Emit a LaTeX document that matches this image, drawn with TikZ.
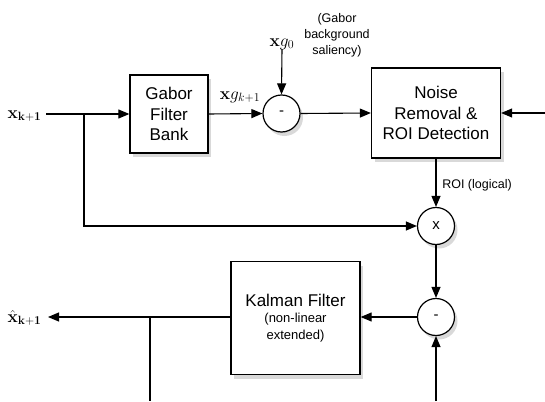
\documentclass[tikz,border=0pt]{standalone}
\usepackage[no-math]{fontspec}
\setmainfont{Liberation Sans}
\usetikzlibrary{arrows.meta,shadows}
\begin{document}
\begin{tikzpicture}[x=1pt,y=-1pt,line width=1.1pt,
  shad/.style={drop shadow={shadow xshift=3pt,shadow yshift=-4pt,opacity=0.3}},
  box/.style={draw,fill=white,line width=1.3pt,shad,align=center,inner sep=2pt,
    font=\fontsize{17}{20.5}\selectfont},
  sumc/.style={circle,draw,fill=white,line width=1.2pt,minimum size=37pt,inner sep=0pt,shad,
    font=\fontsize{15}{18}\selectfont},
  arr/.style={-{Triangle[length=11pt,width=9pt]}},
  lbl/.style={font=\fontsize{18}{20}\selectfont},
  small/.style={align=center,font=\fontsize{12.5}{16}\selectfont}]
\useasboundingbox (0,0) rectangle (545,401);
% blocks
\node[box,minimum width=78pt,minimum height=78pt] (gabor) at (169,114) {Gabor\\Filter\\Bank};
\node[sumc] (m1) at (281.5,113.5) {-};
\node[box,minimum width=129pt,minimum height=90pt] (noise) at (436,113) {Noise\\Removal \&\\ROI Detection};
\node[sumc] (mul) at (436,226) {x};
\node[sumc] (m2) at (436,317) {-};
\node[box,minimum width=129pt,minimum height=113pt,font=\fontsize{13}{16.5}\selectfont] (kal) at (295.5,318)
  {{\fontsize{17}{17}\selectfont Kalman Filter}\\(non-linear\\extended)};
% labels
\node[lbl,anchor=east,inner sep=1pt] (xin) at (43,116) {$\mathbf{x}_{\mathbf{k+1}}$};
\node[lbl,anchor=east,inner sep=1pt] (xout) at (43,318) {$\hat{\mathbf{x}}_{\mathbf{k+1}}$};
\node[lbl] (xgk) at (240,97) {$\mathbf{x}g_{k+1}$};
\node[lbl,inner sep=1pt] (xg0) at (282,44) {$\mathbf{x}g_{0}$};
\node[small] (sal) at (337,35) {(Gabor\\background\\saliency)};
\node[small] (roi) at (477,185) {ROI (logical)};
% coordinates
\coordinate (xs) at (46,114);
\coordinate (b1) at (84,114);
\coordinate (b2) at (150,317);
\coordinate (bot2) at (150,401);
\coordinate (bot3) at (436,401);
\coordinate (rin) at (545,113);
\coordinate (xe) at (48,317);
% connectors
\draw (xs) -- (b1);
\draw[arr] (b1) -- (gabor.west);
\draw[arr] (b1) |- (mul.west);
\draw[arr] (gabor.east) -- (m1.west);
\draw[arr] (xg0.south) ++(0,2pt) -- (m1.north);
\draw[arr] (m1.east) -- (noise.west);
\draw[arr] (rin) -- (noise.east);
\draw[arr] (noise.south) -- (mul.north);
\draw[arr] (mul.south) -- (m2.north);
\draw[arr] (m2.west) -- (kal.east |- m2.west);
\draw[arr] (kal.west |- m2.west) -- (xe);
\draw (b2) -- (bot2);
\draw[arr] (bot3) -- (m2.south);
\end{tikzpicture}
\end{document}
